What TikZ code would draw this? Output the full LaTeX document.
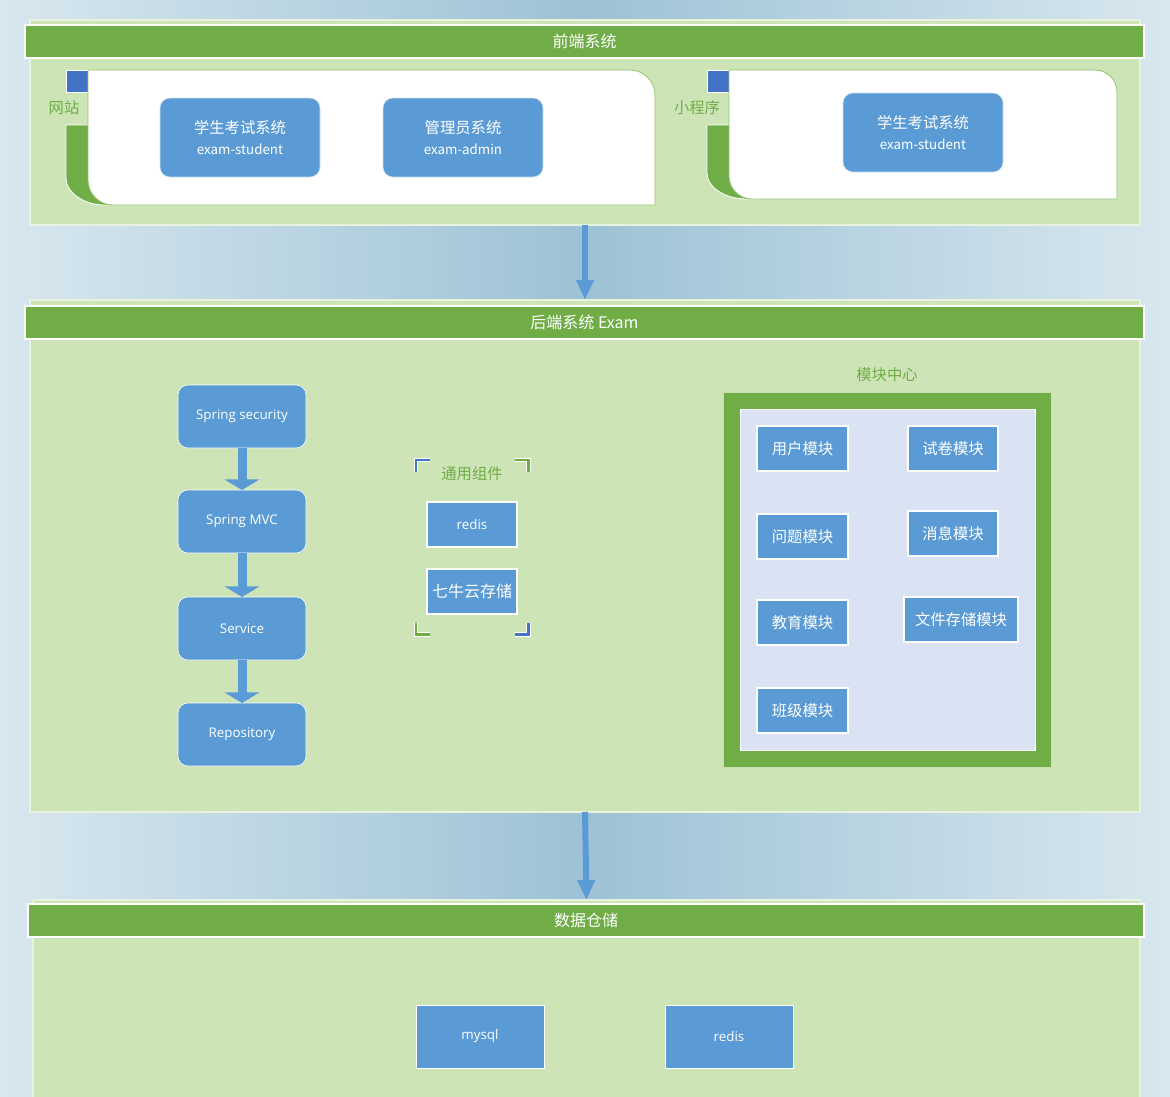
\documentclass[tikz,border=0pt]{standalone}
\usepackage{fontspec}
\setmainfont{Noto Sans CJK SC}
\newfontfamily\latfont{Open Sans}
\usepackage{xcolor}
\usetikzlibrary{calc,arrows.meta}

\definecolor{hdgreen}{HTML}{70AD47}
\definecolor{pnlgreen}{HTML}{CDE4B7}
\definecolor{boxblue}{HTML}{5B9BD5}
\definecolor{tabblue}{HTML}{4472C4}
\definecolor{modbg}{HTML}{DAE3F3}
\definecolor{bgedge}{HTML}{D8E7EF}
\definecolor{bgmid}{HTML}{9DC2D5}
\definecolor{cardline}{HTML}{92C46E}

\newcommand{\pxl}{0.75pt}

\tikzset{
  panel/.style={fill=pnlgreen, draw=white!55!pnlgreen, line width=0.8pt, inner sep=0pt, outer sep=0pt, anchor=north west},
  header/.style={fill=hdgreen, draw=white, line width=0.8pt, text=white, font=\fontsize{12}{14}\selectfont,
    inner sep=0pt, outer sep=0pt, minimum height=33*\pxl, anchor=north west},
  sysbox/.style={fill=boxblue, draw=white!70!boxblue, rounded corners=7.5pt, text=white, align=center,
    minimum width=160*\pxl, minimum height=79*\pxl, inner sep=0pt, outer sep=0pt, anchor=north west,
    font=\fontsize{11.5}{16}\selectfont},
  layerbox/.style={fill=boxblue, draw=white, rounded corners=7.5pt, text=white,
    minimum width=128*\pxl, minimum height=63*\pxl, inner sep=0pt, outer sep=0pt, anchor=north west,
    font=\latfont\fontsize{10}{12}\selectfont},
  modbox/.style={fill=boxblue, draw=white, line width=0.8pt, text=white,
    minimum width=91*\pxl, minimum height=45*\pxl, inner sep=0pt, outer sep=0pt, anchor=north west,
    font=\fontsize{11.5}{14}\selectfont},
  grntext/.style={text=hdgreen, font=\fontsize{11.5}{14}\selectfont},
  card/.style={fill=white, draw=cardline, line width=0.6pt},
  tab/.style={fill=hdgreen, draw=white, line width=0.6pt},
  tabsq/.style={fill=tabblue, draw=white, line width=0.6pt},
  bigarrow/.style={draw=boxblue, line width=4.5pt, -{Triangle[width=12.5pt,length=15pt]}},
  layerarrow/.style={draw=boxblue, line width=6.75pt, -{Triangle[width=26pt,length=8pt]}},
  brk/.style={line width=2pt, preaction={draw=white, line width=3.4pt}},
}

\begin{document}
\begin{tikzpicture}[x=0.75pt, y=-0.75pt]
    \useasboundingbox (0,0) rectangle (1170,1096);
    % Background
    \shade[left color=bgedge, right color=bgedge, middle color=bgmid] (0,0) rectangle (1170,1096);

    % Front end
    \node[panel, minimum width=1110*\pxl, minimum height=205*\pxl] (front) at (30,20) {};
    \node[header, minimum width=1119*\pxl] (fronthd) at (25,25) {前端系统};

    \draw[tab] (66,125) -- (120,125) -- (120,205) -- (104,205) .. controls (84.75,205) and (66,192.85) .. (66,178) -- cycle;
    \draw[tabsq] (66,70) rectangle (88,92);
    \draw[card] (88,70) -- (630,70) .. controls (643.75,70) and (655,81.25) .. (655,95) -- (655,205)
      -- (113,205) .. controls (99.25,205) and (88,193.75) .. (88,180) -- cycle;
    \node[grntext] (weblbl) at (64,108) {网站};
    \node[sysbox] (webstu) at (160,98) {学生考试系统\\{\fontsize{10}{12}\selectfont exam-student}};
    \node[sysbox] (webadm) at (383,98) {管理员系统\\{\fontsize{10}{12}\selectfont exam-admin}};

    \draw[tab] (707,125) -- (760,125) -- (760,199) -- (747,199) .. controls (725,199) and (707,187.3) .. (707,173) -- cycle;
    \draw[tabsq] (707,70) rectangle (729,92);
    \draw[card] (729,70) -- (1095,70) .. controls (1107.1,70) and (1117,79.9) .. (1117,92) -- (1117,199)
      -- (752,199) .. controls (739.4,199) and (729,188.6) .. (729,176) -- cycle;
    \node[grntext] (applbl) at (697,108) {小程序};
    \node[sysbox] (appstu) at (843,93) {学生考试系统\\{\fontsize{10}{12}\selectfont exam-student}};

    % Back end
    \node[panel, minimum width=1110*\pxl, minimum height=512*\pxl] (back) at (30,300) {};
    \node[header, minimum width=1119*\pxl] (backhd) at (25,306) {后端系统 Exam};
    \draw[bigarrow] (front.south) -- (back.north);

    % Layers
    \node[layerbox] (sec) at (178,385) {Spring security};
    \node[layerbox] (mvc) at (178,490) {Spring MVC};
    \node[layerbox] (svc) at (178,597) {Service};
    \node[layerbox] (repo) at (178,703) {Repository};
    \draw[layerarrow] (sec) -- (mvc);
    \draw[layerarrow] (mvc) -- (svc);
    \draw[layerarrow] (svc) -- (repo);

    % Common components
    \node[inner sep=0pt, minimum width=112*\pxl, minimum height=174*\pxl, anchor=north west] (grp) at (416,460) {};
    \draw[brk, tabblue] ($(grp.north west)+(0,12)$) -- (grp.north west) -- ++(14,0);
    \draw[brk, hdgreen] ($(grp.north east)+(-14,0)$) -- (grp.north east) -- ++(0,12);
    \draw[brk, hdgreen] ($(grp.south west)+(0,-12)$) -- (grp.south west) -- ++(14,0);
    \draw[brk, tabblue] ($(grp.south east)+(-14,0)$) -- (grp.south east) -- ++(0,-12);
    \node[grntext] (grplbl) at (472,474) {通用组件};
    \node[modbox, minimum width=90*\pxl, font=\latfont\fontsize{10}{12}\selectfont] (credis) at (427,502) {redis};
    \node[modbox, minimum width=90*\pxl, font=\fontsize{12}{14}\selectfont] (qiniu) at (427,569) {七牛云存储};

    % Module center
    \node[grntext] (modlbl) at (887,375) {模块中心};
    \node[fill=hdgreen, draw=white!60!hdgreen, line width=0.8pt, inner sep=0pt, anchor=north west,
      minimum width=328*\pxl, minimum height=375*\pxl] (modout) at (723,392) {};
    \node[fill=modbg, draw=white, line width=0.8pt, inner sep=0pt, anchor=north west,
      minimum width=295*\pxl, minimum height=341*\pxl] (modin) at (740,409) {};
    \node[modbox] (user) at (757,426) {用户模块};
    \node[modbox, minimum width=90*\pxl] (paper) at (908,426) {试卷模块};
    \node[modbox] (quest) at (757,514) {问题模块};
    \node[modbox, minimum width=90*\pxl] (msg) at (908,511) {消息模块};
    \node[modbox] (edu) at (757,600) {教育模块};
    \node[modbox, minimum width=114*\pxl] (file) at (904,597) {文件存储模块};
    \node[modbox] (cls) at (757,688) {班级模块};

    % Data store
    \node[panel, minimum width=1107*\pxl, minimum height=200*\pxl] (data) at (33,900) {};
    \node[header, minimum width=1116*\pxl] (datahd) at (28,904) {数据仓储};
    \draw[bigarrow] (back.south) -- (data.north);
    \node[layerbox, rounded corners=0pt] (mysql) at (416,1005) {mysql};
    \node[layerbox, rounded corners=0pt] (dredis) at (665,1005) {redis};
\end{tikzpicture}
\end{document}
